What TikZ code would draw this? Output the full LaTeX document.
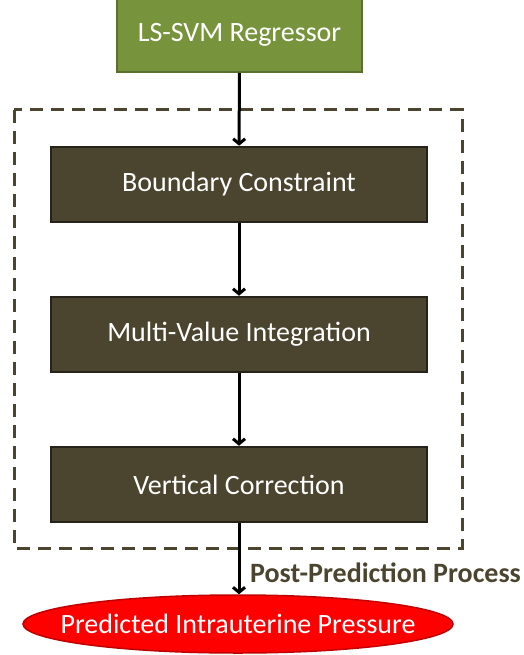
\documentclass[tikz,border=0pt]{standalone}
\usepackage{fontspec}
\setmainfont{Carlito}
\usepackage{xcolor}
\definecolor{OliveGreen}{HTML}{77933C}
\definecolor{OliveEdge}{HTML}{5A7030}
\definecolor{DarkOlive}{HTML}{4B452F}
\definecolor{DarkEdge}{HTML}{26231A}
\definecolor{BrightRed}{HTML}{FF0000}
\definecolor{RedEdge}{HTML}{C00000}
\usepackage{tikz}
\usetikzlibrary{arrows.meta, positioning, shapes.geometric}

\tikzset{
  stage/.style={draw=DarkEdge, line width=2.5pt, fill=DarkOlive, text=white,
    minimum width=376pt, minimum height=75pt, inner sep=0pt},
  flow/.style={-{Straight Barb[length=5pt,width=12pt]}, line width=3pt, black},
}

\begin{document}
\begin{tikzpicture}[x=1pt, y=-1pt, font=\fontsize{28}{33}\selectfont]
  \useasboundingbox (0,0) rectangle (524,655);
  % regressor on top
  \node[draw=OliveEdge, line width=2pt, fill=OliveGreen, text=white,
    minimum width=245pt, minimum height=74pt, inner sep=0pt] (svm) at (239.5,35) {LS-SVM Regressor};
  % post-prediction stages
  \draw[DarkOlive, line width=3pt, dash pattern=on 13pt off 8pt] (14,110) rectangle (462,548);
  \node[stage] (bound) at (239,184.5) {Boundary Constraint};
  \node[stage] (multi) at (239,334.5) {Multi-Value Integration};
  \node[stage] (vert)  at (239,484.5) {Vertical Correction};
  \node[font=\fontsize{28}{33}\selectfont\bfseries, text=DarkOlive, anchor=west, inner sep=0pt] (post) at (250,573) {Post-Prediction Process};
  % output
  \node[ellipse, draw=RedEdge, line width=1.5pt, fill=BrightRed, text=white,
    minimum width=430pt, minimum height=58pt, inner xsep=-40pt, inner ysep=0pt] (ipp) at (238,624) {Predicted Intrauterine Pressure};

  \draw[flow] (svm) -- (bound);
  \draw[flow] (bound) -- (multi);
  \draw[flow] (multi) -- (vert);
  \draw[flow] (vert.south) -- (vert.south |- ipp.north);
\end{tikzpicture}
\end{document}
